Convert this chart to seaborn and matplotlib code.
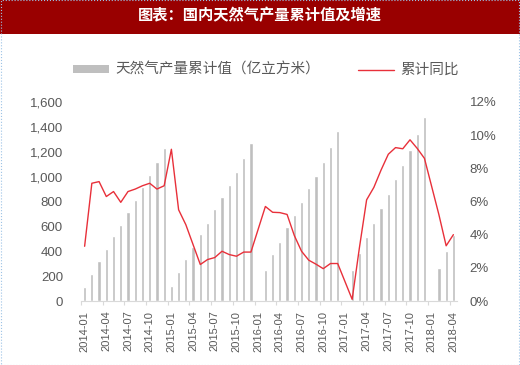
import numpy as np
import pandas as pd
import matplotlib
matplotlib.use('Agg')
import matplotlib.pyplot as plt
import seaborn as sns
from matplotlib.patches import Patch, Rectangle
from matplotlib.lines import Line2D

# monthly labels 2014-01 .. 2018-04
months = [f'{y}-{m:02d}' for y in range(2014, 2019) for m in range(1, 13)][:52]

# cumulative natural gas output (100 million m3), January not reported after 2015
output = [110, 217, 322, 421, 523, 614, 713, 812, 914, 1013, 1115, 1233,
          120, 230, 337, 431, 536, 627, 737, 836, 933, 1037, 1150, 1268,
          np.nan, 249, 378, 477, 592, 691, 793, 906, 1005, 1115, 1236, 1369,
          np.nan, 249, 383, 517, 630, 745, 858, 978, 1091, 1214, 1343, 1477,
          np.nan, 263, 402, 531]

# cumulative year-on-year growth (%)
yoy = [3.3, 7.1, 7.2, 6.3, 6.6, 5.95, 6.6, 6.75, 6.95, 7.1, 6.75, 6.95,
       9.15, 5.5, 4.6, 3.4, 2.2, 2.5, 2.62, 3.0, 2.8, 2.7, 2.95, 2.95,
       np.nan, 5.7, 5.35, 5.33, 5.22, 3.95, 3.0, 2.46, 2.22, 1.95, 2.26, 2.26,
       np.nan, 0.1, 3.2, 6.1, 6.85, 7.9, 8.85, 9.25, 9.18, 9.72, 9.2, 8.6,
       np.nan, 5.2, 3.33, 4.0]

title = '图表：国内天然气产量累计值及增速'
bar_label = '天然气产量累计值（亿立方米）'
line_label = '累计同比'

bar_color = '#bfbfbf'
line_color = '#e8303a'
text_color = '#595959'

df = pd.DataFrame({'month': months, 'output': output, 'yoy': yoy})
df['pos'] = np.arange(len(df))

sns.set_theme(style='white')
plt.rcParams['font.family'] = ['Liberation Sans', 'Noto Sans CJK SC']

fig = plt.figure(figsize=(5.2, 3.65), dpi=100)
ax = fig.add_axes([81 / 520, 1 - 301 / 365, 376 / 520, 199 / 365])

sns.barplot(data=df, x='month', y='output', order=months, color=bar_color,
            saturation=1, width=0.44, errorbar=None, ax=ax)

ax2 = ax.twinx()
sns.lineplot(data=df, x='pos', y='yoy', color=line_color, lw=1.0, ax=ax2)

ax.set_xlim(-0.5, 51.5)
ax.set_ylim(0, 1600)
ax2.set_ylim(0, 12)

ax.set_yticks(range(0, 1601, 200))
ax.set_yticklabels([f'{v:,}' for v in range(0, 1601, 200)])
ax2.set_yticks(range(0, 13, 2))
ax2.set_yticklabels([f'{v}%' for v in range(0, 13, 2)])

ax.set_xticks(range(0, 52, 3))
ax.set_xticklabels(months[::3], rotation=90)
ax.set_xticks(np.arange(-0.5, 51, 3), minor=True)

ax.tick_params(axis='x', which='major', length=0, pad=7, labelsize=8, labelcolor=text_color)
ax.tick_params(axis='x', which='minor', length=3, width=0.8, color='#d9d9d9', direction='out', bottom=True)
ax.tick_params(axis='y', length=0, pad=13, labelsize=9.5, labelcolor=text_color)
ax2.tick_params(axis='y', length=0, pad=9, labelsize=9.5, labelcolor=text_color)

for s in ['left', 'right', 'top']:
    ax.spines[s].set_visible(False)
for s in ax2.spines.values():
    s.set_visible(False)
ax.spines['bottom'].set_color('#d9d9d9')
ax.spines['bottom'].set_linewidth(0.8)
ax.set_xlabel('')
ax.set_ylabel('')
ax2.set_xlabel('')
ax2.set_ylabel('')

# legend across the top
handles = [Patch(facecolor=bar_color, edgecolor='none'),
           Line2D([], [], color=line_color, lw=1.0)]
fig.legend(handles, [bar_label, line_label], ncol=2, loc='center left',
           bbox_to_anchor=(73 / 520, 1 - 70 / 365), frameon=False, fontsize=10.5,
           handlelength=2.5, handleheight=0.42, handletextpad=0.4,
           columnspacing=2.6, borderaxespad=0, borderpad=0, labelcolor=text_color)

# title bar
fig.patches.append(Rectangle((0, 1 - 34 / 365), 1, 34 / 365, transform=fig.transFigure,
                             facecolor='#990000', edgecolor='none', zorder=0))
fig.text(0.5, 1 - 16 / 365, title, color='white', fontsize=11, fontweight='bold',
         ha='center', va='center')
fig.patches.append(Rectangle((0.001, 0.001), 0.998, 0.998, transform=fig.transFigure,
                             fill=False, edgecolor='#9dc3e6', ls=':', lw=0.8))

fig.savefig('out.png', dpi=100)
plt.close()
